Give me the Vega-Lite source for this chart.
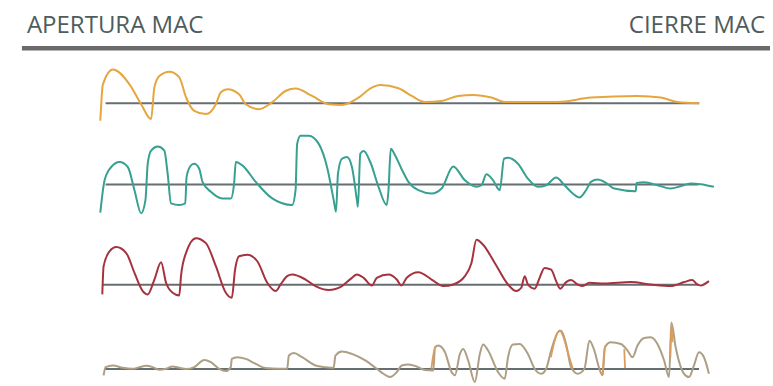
{
  "$schema": "https://vega.github.io/schema/vega-lite/v6.json",
  "width": 773,
  "height": 386,
  "autosize": {"type": "fit", "contains": "padding"},
  "padding": 0,
  "background": "#ffffff",
  "config": {"view": {"stroke": null}},
  "datasets": {
    "cabecera": [
      {"texto": "APERTURA MAC", "pos": 27, "nivel": 14, "lado": "izq"},
      {"texto": "CIERRE MAC", "pos": 768, "nivel": 14, "lado": "der"}
    ],
    "separador": [
      {"inicio": 22, "fin": 773, "nivel": -1.7}
    ],
    "bases": [
      {"serie": "naranja", "inicio": 106, "fin": 702, "nivel": 0},
      {"serie": "verde", "inicio": 106, "fin": 701, "nivel": 0},
      {"serie": "rojo", "inicio": 103.3, "fin": 701.7, "nivel": 0},
      {"serie": "arena", "inicio": 105, "fin": 701.7, "nivel": 0}
    ],
    "curvas": [
      {"serie": "naranja", "t": 100.7, "v": -17.7},
      {"serie": "naranja", "t": 103.3, "v": 19},
      {"serie": "naranja", "t": 113.3, "v": 34},
      {"serie": "naranja", "t": 130, "v": 19},
      {"serie": "naranja", "t": 141.7, "v": -1},
      {"serie": "naranja", "t": 151.7, "v": -16},
      {"serie": "naranja", "t": 155, "v": 16},
      {"serie": "naranja", "t": 160, "v": 27.3},
      {"serie": "naranja", "t": 170, "v": 31.7},
      {"serie": "naranja", "t": 180, "v": 26},
      {"serie": "naranja", "t": 186.7, "v": 6},
      {"serie": "naranja", "t": 195, "v": -7.7},
      {"serie": "naranja", "t": 206.7, "v": -11},
      {"serie": "naranja", "t": 216.7, "v": -1},
      {"serie": "naranja", "t": 221.7, "v": 11},
      {"serie": "naranja", "t": 228.3, "v": 14},
      {"serie": "naranja", "t": 240, "v": 9},
      {"serie": "naranja", "t": 246.7, "v": -1},
      {"serie": "naranja", "t": 260, "v": -6},
      {"serie": "naranja", "t": 273.3, "v": 1},
      {"serie": "naranja", "t": 286.7, "v": 12.3},
      {"serie": "naranja", "t": 296.7, "v": 14.7},
      {"serie": "naranja", "t": 313.3, "v": 7.3},
      {"serie": "naranja", "t": 330, "v": -1},
      {"serie": "naranja", "t": 343.3, "v": -1.7},
      {"serie": "naranja", "t": 360, "v": 5.7},
      {"serie": "naranja", "t": 373.3, "v": 15.7},
      {"serie": "naranja", "t": 381.7, "v": 18.3},
      {"serie": "naranja", "t": 400, "v": 15},
      {"serie": "naranja", "t": 413.3, "v": 7.3},
      {"serie": "naranja", "t": 426.7, "v": 1.3},
      {"serie": "naranja", "t": 443.3, "v": 2.3},
      {"serie": "naranja", "t": 460, "v": 7.3},
      {"serie": "naranja", "t": 475, "v": 8.3},
      {"serie": "naranja", "t": 493.3, "v": 5.7},
      {"serie": "naranja", "t": 506.7, "v": 1.3},
      {"serie": "naranja", "t": 560, "v": 1.3},
      {"serie": "naranja", "t": 593.3, "v": 5.7},
      {"serie": "naranja", "t": 640, "v": 7.3},
      {"serie": "naranja", "t": 663.3, "v": 5.7},
      {"serie": "naranja", "t": 680, "v": 1.3},
      {"serie": "naranja", "t": 701.7, "v": 0},

      {"serie": "verde", "t": 100.7, "v": -28.3},
      {"serie": "verde", "t": 105, "v": 4.3},
      {"serie": "verde", "t": 111.7, "v": 17.7},
      {"serie": "verde", "t": 120, "v": 22.7},
      {"serie": "verde", "t": 128.3, "v": 17.7},
      {"serie": "verde", "t": 135, "v": -5.7},
      {"serie": "verde", "t": 141.7, "v": -29},
      {"serie": "verde", "t": 146, "v": -15.7},
      {"serie": "verde", "t": 148.3, "v": 21},
      {"serie": "verde", "t": 151.7, "v": 34.3},
      {"serie": "verde", "t": 158.3, "v": 38.3},
      {"serie": "verde", "t": 165, "v": 34.3},
      {"serie": "verde", "t": 168.3, "v": 11},
      {"serie": "verde", "t": 171.7, "v": -19},
      {"serie": "verde", "t": 180, "v": -20.7},
      {"serie": "verde", "t": 186, "v": -19},
      {"serie": "verde", "t": 187.3, "v": 7.7},
      {"serie": "verde", "t": 191.7, "v": 19.3},
      {"serie": "verde", "t": 195, "v": 21},
      {"serie": "verde", "t": 200, "v": 16},
      {"serie": "verde", "t": 203.3, "v": 2.7},
      {"serie": "verde", "t": 211.7, "v": -7.3},
      {"serie": "verde", "t": 223.3, "v": -14},
      {"serie": "verde", "t": 231.7, "v": -14},
      {"serie": "verde", "t": 235, "v": 1},
      {"serie": "verde", "t": 236.7, "v": 22.7},
      {"serie": "verde", "t": 243.3, "v": 19.3},
      {"serie": "verde", "t": 256.7, "v": 2.7},
      {"serie": "verde", "t": 273.3, "v": -14},
      {"serie": "verde", "t": 293.3, "v": -20.7},
      {"serie": "verde", "t": 296.7, "v": -5.7},
      {"serie": "verde", "t": 298.3, "v": 41},
      {"serie": "verde", "t": 301.7, "v": 49.3},
      {"serie": "verde", "t": 310, "v": 49.3},
      {"serie": "verde", "t": 320, "v": 41},
      {"serie": "verde", "t": 328.3, "v": 17.7},
      {"serie": "verde", "t": 335, "v": -15.7},
      {"serie": "verde", "t": 337.3, "v": -27.3},
      {"serie": "verde", "t": 339.3, "v": 11},
      {"serie": "verde", "t": 343.3, "v": 26},
      {"serie": "verde", "t": 348.3, "v": 27.7},
      {"serie": "verde", "t": 353.3, "v": 17.7},
      {"serie": "verde", "t": 358.3, "v": -15.7},
      {"serie": "verde", "t": 359.3, "v": -22.3},
      {"serie": "verde", "t": 361.7, "v": 31},
      {"serie": "verde", "t": 365, "v": 33.7},
      {"serie": "verde", "t": 371.7, "v": 22.7},
      {"serie": "verde", "t": 380, "v": -2.3},
      {"serie": "verde", "t": 388.3, "v": -20.7},
      {"serie": "verde", "t": 390, "v": -5.7},
      {"serie": "verde", "t": 392.3, "v": 36},
      {"serie": "verde", "t": 396.7, "v": 29.3},
      {"serie": "verde", "t": 403, "v": 16},
      {"serie": "verde", "t": 410, "v": 2.7},
      {"serie": "verde", "t": 420, "v": -5.7},
      {"serie": "verde", "t": 433.3, "v": -9},
      {"serie": "verde", "t": 443.3, "v": -4},
      {"serie": "verde", "t": 455, "v": 18.3},
      {"serie": "verde", "t": 466.7, "v": 4.3},
      {"serie": "verde", "t": 478.3, "v": -2.3},
      {"serie": "verde", "t": 483.3, "v": -0.7},
      {"serie": "verde", "t": 488.3, "v": 10.3},
      {"serie": "verde", "t": 495, "v": 4.3},
      {"serie": "verde", "t": 501.7, "v": -5.7},
      {"serie": "verde", "t": 506, "v": 26},
      {"serie": "verde", "t": 510, "v": 27},
      {"serie": "verde", "t": 520, "v": 21},
      {"serie": "verde", "t": 530, "v": 6},
      {"serie": "verde", "t": 540, "v": -2.3},
      {"serie": "verde", "t": 548.3, "v": -0.7},
      {"serie": "verde", "t": 558.3, "v": 7},
      {"serie": "verde", "t": 566.7, "v": -0.7},
      {"serie": "verde", "t": 575, "v": -9},
      {"serie": "verde", "t": 581.7, "v": -13},
      {"serie": "verde", "t": 588.3, "v": -5.7},
      {"serie": "verde", "t": 593.3, "v": 2.7},
      {"serie": "verde", "t": 600, "v": 5},
      {"serie": "verde", "t": 608.3, "v": 1.7},
      {"serie": "verde", "t": 616.7, "v": -4},
      {"serie": "verde", "t": 638.3, "v": -6.7},
      {"serie": "verde", "t": 639, "v": 1.7},
      {"serie": "verde", "t": 646.7, "v": 2.3},
      {"serie": "verde", "t": 660, "v": -0.7},
      {"serie": "verde", "t": 673.3, "v": -4},
      {"serie": "verde", "t": 683.3, "v": -1.7},
      {"serie": "verde", "t": 693.3, "v": 1},
      {"serie": "verde", "t": 703.3, "v": 0.3},
      {"serie": "verde", "t": 716.7, "v": -2.3},

      {"serie": "rojo", "t": 102.7, "v": -9.7},
      {"serie": "rojo", "t": 104, "v": 18.7},
      {"serie": "rojo", "t": 110, "v": 33.7},
      {"serie": "rojo", "t": 116.7, "v": 38},
      {"serie": "rojo", "t": 126.7, "v": 32},
      {"serie": "rojo", "t": 135, "v": 12},
      {"serie": "rojo", "t": 143.3, "v": -6.3},
      {"serie": "rojo", "t": 148.3, "v": -9.7},
      {"serie": "rojo", "t": 155, "v": 5.3},
      {"serie": "rojo", "t": 161.7, "v": 22.7},
      {"serie": "rojo", "t": 166.7, "v": 2},
      {"serie": "rojo", "t": 173.3, "v": -8},
      {"serie": "rojo", "t": 180, "v": -10.7},
      {"serie": "rojo", "t": 181.7, "v": 8.7},
      {"serie": "rojo", "t": 186.7, "v": 32},
      {"serie": "rojo", "t": 196.7, "v": 47},
      {"serie": "rojo", "t": 206.7, "v": 42},
      {"serie": "rojo", "t": 216.7, "v": 18.7},
      {"serie": "rojo", "t": 226.7, "v": -8},
      {"serie": "rojo", "t": 232.7, "v": -13},
      {"serie": "rojo", "t": 236, "v": 15.3},
      {"serie": "rojo", "t": 240, "v": 28.7},
      {"serie": "rojo", "t": 248.3, "v": 30.3},
      {"serie": "rojo", "t": 258.3, "v": 23.7},
      {"serie": "rojo", "t": 268.3, "v": 2},
      {"serie": "rojo", "t": 276.7, "v": -6.3},
      {"serie": "rojo", "t": 281.7, "v": 0.3},
      {"serie": "rojo", "t": 288.3, "v": 8.7},
      {"serie": "rojo", "t": 293.3, "v": 10.3},
      {"serie": "rojo", "t": 306.7, "v": 5.3},
      {"serie": "rojo", "t": 316.7, "v": -1.3},
      {"serie": "rojo", "t": 330, "v": -5.3},
      {"serie": "rojo", "t": 343.3, "v": -1.3},
      {"serie": "rojo", "t": 353.3, "v": 7},
      {"serie": "rojo", "t": 358.3, "v": 10.3},
      {"serie": "rojo", "t": 365, "v": 7},
      {"serie": "rojo", "t": 373.3, "v": -0.7},
      {"serie": "rojo", "t": 378.3, "v": 7},
      {"serie": "rojo", "t": 390, "v": 10.3},
      {"serie": "rojo", "t": 398.3, "v": 5.3},
      {"serie": "rojo", "t": 403, "v": -0.7},
      {"serie": "rojo", "t": 408.3, "v": 7},
      {"serie": "rojo", "t": 420, "v": 12.7},
      {"serie": "rojo", "t": 433.3, "v": 5.3},
      {"serie": "rojo", "t": 445, "v": -1.3},
      {"serie": "rojo", "t": 455, "v": 0.3},
      {"serie": "rojo", "t": 466.7, "v": 8.7},
      {"serie": "rojo", "t": 473.3, "v": 22},
      {"serie": "rojo", "t": 478.3, "v": 45.3},
      {"serie": "rojo", "t": 485, "v": 40.3},
      {"serie": "rojo", "t": 496.7, "v": 22},
      {"serie": "rojo", "t": 510, "v": 0.3},
      {"serie": "rojo", "t": 518.3, "v": -6.3},
      {"serie": "rojo", "t": 523.3, "v": -3},
      {"serie": "rojo", "t": 526.7, "v": 8.7},
      {"serie": "rojo", "t": 530, "v": 0.3},
      {"serie": "rojo", "t": 536.7, "v": -4},
      {"serie": "rojo", "t": 541.7, "v": 7},
      {"serie": "rojo", "t": 546.7, "v": 17},
      {"serie": "rojo", "t": 553.3, "v": 15.3},
      {"serie": "rojo", "t": 558.3, "v": 3.7},
      {"serie": "rojo", "t": 562.3, "v": -4},
      {"serie": "rojo", "t": 568.3, "v": 2.7},
      {"serie": "rojo", "t": 573.3, "v": 4.7},
      {"serie": "rojo", "t": 580, "v": 0.3},
      {"serie": "rojo", "t": 585, "v": -1.3},
      {"serie": "rojo", "t": 591.7, "v": 2},
      {"serie": "rojo", "t": 606.7, "v": 1.3},
      {"serie": "rojo", "t": 633.3, "v": 2.7},
      {"serie": "rojo", "t": 653.3, "v": 0.3},
      {"serie": "rojo", "t": 673.3, "v": -1.3},
      {"serie": "rojo", "t": 686.7, "v": 2.7},
      {"serie": "rojo", "t": 695, "v": 4.7},
      {"serie": "rojo", "t": 700, "v": 0.3},
      {"serie": "rojo", "t": 703.3, "v": -0.7},
      {"serie": "rojo", "t": 711.7, "v": 3.7},

      {"serie": "arena", "t": 104, "v": -6.3},
      {"serie": "arena", "t": 106, "v": 2},
      {"serie": "arena", "t": 113.3, "v": 3.7},
      {"serie": "arena", "t": 123.3, "v": 1.3},
      {"serie": "arena", "t": 133.3, "v": 0.3},
      {"serie": "arena", "t": 140, "v": 2},
      {"serie": "arena", "t": 146.7, "v": 3.3},
      {"serie": "arena", "t": 153.3, "v": 2},
      {"serie": "arena", "t": 160, "v": -0.7},
      {"serie": "arena", "t": 166.7, "v": 0.3},
      {"serie": "arena", "t": 173.3, "v": 2.7},
      {"serie": "arena", "t": 180, "v": 1.3},
      {"serie": "arena", "t": 186.7, "v": 0},
      {"serie": "arena", "t": 195, "v": 2},
      {"serie": "arena", "t": 205, "v": 9.3},
      {"serie": "arena", "t": 211.7, "v": 7},
      {"serie": "arena", "t": 220, "v": 0.3},
      {"serie": "arena", "t": 226.7, "v": -2},
      {"serie": "arena", "t": 231.7, "v": 2},
      {"serie": "arena", "t": 232.7, "v": 10.3},
      {"serie": "arena", "t": 238.3, "v": 12},
      {"serie": "arena", "t": 246.7, "v": 10.3},
      {"serie": "arena", "t": 256.7, "v": 5.3},
      {"serie": "arena", "t": 266.7, "v": 1},
      {"serie": "arena", "t": 280, "v": 0.3},
      {"serie": "arena", "t": 288.3, "v": 0.3},
      {"serie": "arena", "t": 290, "v": 13.7},
      {"serie": "arena", "t": 295, "v": 16.3},
      {"serie": "arena", "t": 303.3, "v": 12},
      {"serie": "arena", "t": 316.7, "v": 3.7},
      {"serie": "arena", "t": 326.7, "v": 2},
      {"serie": "arena", "t": 335, "v": 1.3},
      {"serie": "arena", "t": 336.7, "v": 13.7},
      {"serie": "arena", "t": 343.3, "v": 17.7},
      {"serie": "arena", "t": 353.3, "v": 15.3},
      {"serie": "arena", "t": 366.7, "v": 8.7},
      {"serie": "arena", "t": 378.3, "v": 0.3},
      {"serie": "arena", "t": 385, "v": -4.7},
      {"serie": "arena", "t": 391.7, "v": -8},
      {"serie": "arena", "t": 398.3, "v": -3},
      {"serie": "arena", "t": 403.3, "v": 3.7},
      {"serie": "arena", "t": 410, "v": 4.7},
      {"serie": "arena", "t": 418.3, "v": 2.7},
      {"serie": "arena", "t": 426.7, "v": -1},
      {"serie": "arena", "t": 435, "v": -1.3},
      {"serie": "arena", "t": 436.7, "v": 22},
      {"serie": "arena", "t": 440, "v": 23.7},
      {"serie": "arena", "t": 446.7, "v": 17},
      {"serie": "arena", "t": 453.3, "v": -3},
      {"serie": "arena", "t": 456.7, "v": -6.3},
      {"serie": "arena", "t": 461.7, "v": 15.3},
      {"serie": "arena", "t": 465, "v": 20.3},
      {"serie": "arena", "t": 470, "v": 8.7},
      {"serie": "arena", "t": 476.7, "v": -13},
      {"serie": "arena", "t": 481.7, "v": 15.3},
      {"serie": "arena", "t": 485, "v": 24.7},
      {"serie": "arena", "t": 490, "v": 18.7},
      {"serie": "arena", "t": 500, "v": -3},
      {"serie": "arena", "t": 506.7, "v": -9.7},
      {"serie": "arena", "t": 510, "v": 12},
      {"serie": "arena", "t": 515, "v": 24.7},
      {"serie": "arena", "t": 521.7, "v": 25.3},
      {"serie": "arena", "t": 530, "v": 15.3},
      {"serie": "arena", "t": 536.7, "v": 0.3},
      {"serie": "arena", "t": 543.3, "v": -4.7},
      {"serie": "arena", "t": 548.3, "v": 0.3},
      {"serie": "arena", "t": 553.3, "v": 18.7},
      {"serie": "arena", "t": 560, "v": 37},
      {"serie": "arena", "t": 563.3, "v": 38.7},
      {"serie": "arena", "t": 568.3, "v": 25.3},
      {"serie": "arena", "t": 573.3, "v": 2},
      {"serie": "arena", "t": 580, "v": -4.7},
      {"serie": "arena", "t": 586.7, "v": 0.3},
      {"serie": "arena", "t": 591.7, "v": 28.7},
      {"serie": "arena", "t": 596.7, "v": 18.7},
      {"serie": "arena", "t": 601.7, "v": 0.3},
      {"serie": "arena", "t": 605, "v": -6.3},
      {"serie": "arena", "t": 607.3, "v": 22},
      {"serie": "arena", "t": 613.3, "v": 27},
      {"serie": "arena", "t": 623.3, "v": 25.3},
      {"serie": "arena", "t": 630, "v": 18.7},
      {"serie": "arena", "t": 635, "v": 12},
      {"serie": "arena", "t": 640, "v": 23.7},
      {"serie": "arena", "t": 646.7, "v": 31.3},
      {"serie": "arena", "t": 653.3, "v": 32},
      {"serie": "arena", "t": 660, "v": 25.3},
      {"serie": "arena", "t": 666.7, "v": 8.7},
      {"serie": "arena", "t": 671.7, "v": -8},
      {"serie": "arena", "t": 674, "v": 47},
      {"serie": "arena", "t": 678.3, "v": 22},
      {"serie": "arena", "t": 686.7, "v": -4.7},
      {"serie": "arena", "t": 691.7, "v": -8},
      {"serie": "arena", "t": 696.7, "v": 3.7},
      {"serie": "arena", "t": 701.7, "v": 17},
      {"serie": "arena", "t": 706.7, "v": 12},
      {"serie": "arena", "t": 711.7, "v": -4.7},

      {"serie": "arena2", "tramo": 1, "t": 433, "v": 0.5},
      {"serie": "arena2", "tramo": 1, "t": 436.2, "v": 20},
      {"serie": "arena2", "tramo": 1, "t": 438.5, "v": 23.5},
      {"serie": "arena2", "tramo": 2, "t": 553, "v": 12},
      {"serie": "arena2", "tramo": 2, "t": 557, "v": 29},
      {"serie": "arena2", "tramo": 2, "t": 561.7, "v": 39},
      {"serie": "arena2", "tramo": 2, "t": 565, "v": 34},
      {"serie": "arena2", "tramo": 2, "t": 570, "v": 17},
      {"serie": "arena2", "tramo": 2, "t": 575, "v": 0.3},
      {"serie": "arena2", "tramo": 3, "t": 605, "v": -6},
      {"serie": "arena2", "tramo": 3, "t": 606.5, "v": 17},
      {"serie": "arena2", "tramo": 3, "t": 608, "v": 24},
      {"serie": "arena2", "tramo": 4, "t": 626.7, "v": 20},
      {"serie": "arena2", "tramo": 4, "t": 627.5, "v": 1},
      {"serie": "arena2", "tramo": 5, "t": 673, "v": 12},
      {"serie": "arena2", "tramo": 5, "t": 674, "v": 47},
      {"serie": "arena2", "tramo": 5, "t": 675, "v": 27}
    ]
  },
  "layer": [
    {
      "layer": [
        {
          "data": {"name": "separador"},
          "mark": {"type": "rule", "color": "#6a6a6a", "strokeWidth": 4.5},
          "encoding": {
            "x": {"field": "inicio", "type": "quantitative", "scale": {"domain": [0, 773], "nice": false, "zero": false}, "axis": null},
            "x2": {"field": "fin"},
            "y": {"field": "nivel", "type": "quantitative", "scale": {"domain": [-339, 47], "nice": false, "zero": false}, "axis": null}
          }
        },
        {
          "data": {"name": "cabecera"},
          "transform": [{"filter": "datum.lado === 'izq'"}],
          "mark": {"type": "text", "align": "left", "baseline": "alphabetic", "font": "Open Sans", "fontSize": 24, "color": "#4e5c5c"},
          "encoding": {
            "x": {"field": "pos", "type": "quantitative"},
            "y": {"field": "nivel", "type": "quantitative"},
            "text": {"field": "texto"}
          }
        },
        {
          "data": {"name": "cabecera"},
          "transform": [{"filter": "datum.lado === 'der'"}],
          "mark": {"type": "text", "align": "right", "baseline": "alphabetic", "font": "Open Sans", "fontSize": 24, "color": "#4e5c5c"},
          "encoding": {
            "x": {"field": "pos", "type": "quantitative"},
            "y": {"field": "nivel", "type": "quantitative"},
            "text": {"field": "texto"}
          }
        }
      ]
    },
    {
      "layer": [
        {
          "data": {"name": "bases"},
          "transform": [{"filter": "datum.serie === 'naranja'"}],
          "mark": {"type": "rule", "color": "#676e72", "strokeWidth": 2},
          "encoding": {
            "x": {"field": "inicio", "type": "quantitative"},
            "x2": {"field": "fin"},
            "y": {"field": "nivel", "type": "quantitative", "scale": {"domain": [-282, 104], "nice": false, "zero": false}, "axis": null}
          }
        },
        {
          "data": {"name": "curvas"},
          "transform": [{"filter": "datum.serie === 'naranja'"}],
          "mark": {"type": "line", "color": "#e6a63e", "strokeWidth": 2, "interpolate": "monotone"},
          "encoding": {
            "x": {"field": "t", "type": "quantitative"},
            "y": {"field": "v", "type": "quantitative"}
          }
        }
      ]
    },
    {
      "layer": [
        {
          "data": {"name": "bases"},
          "transform": [{"filter": "datum.serie === 'verde'"}],
          "mark": {"type": "rule", "color": "#676e72", "strokeWidth": 2},
          "encoding": {
            "x": {"field": "inicio", "type": "quantitative"},
            "x2": {"field": "fin"},
            "y": {"field": "nivel", "type": "quantitative", "scale": {"domain": [-200, 186], "nice": false, "zero": false}, "axis": null}
          }
        },
        {
          "data": {"name": "curvas"},
          "transform": [{"filter": "datum.serie === 'verde'"}],
          "mark": {"type": "line", "color": "#37a090", "strokeWidth": 2, "interpolate": "monotone"},
          "encoding": {
            "x": {"field": "t", "type": "quantitative"},
            "y": {"field": "v", "type": "quantitative"}
          }
        }
      ]
    },
    {
      "layer": [
        {
          "data": {"name": "bases"},
          "transform": [{"filter": "datum.serie === 'rojo'"}],
          "mark": {"type": "rule", "color": "#676e72", "strokeWidth": 2},
          "encoding": {
            "x": {"field": "inicio", "type": "quantitative"},
            "x2": {"field": "fin"},
            "y": {"field": "nivel", "type": "quantitative", "scale": {"domain": [-99, 287], "nice": false, "zero": false}, "axis": null}
          }
        },
        {
          "data": {"name": "curvas"},
          "transform": [{"filter": "datum.serie === 'rojo'"}],
          "mark": {"type": "line", "color": "#a5323e", "strokeWidth": 2, "interpolate": "monotone"},
          "encoding": {
            "x": {"field": "t", "type": "quantitative"},
            "y": {"field": "v", "type": "quantitative"}
          }
        }
      ]
    },
    {
      "layer": [
        {
          "data": {"name": "bases"},
          "transform": [{"filter": "datum.serie === 'arena'"}],
          "mark": {"type": "rule", "color": "#676e72", "strokeWidth": 2},
          "encoding": {
            "x": {"field": "inicio", "type": "quantitative"},
            "x2": {"field": "fin"},
            "y": {"field": "nivel", "type": "quantitative", "scale": {"domain": [-14, 372], "nice": false, "zero": false}, "axis": null}
          }
        },
        {
          "data": {"name": "curvas"},
          "transform": [{"filter": "datum.serie === 'arena'"}],
          "mark": {"type": "line", "color": "#ad9f84", "strokeWidth": 2, "interpolate": "monotone"},
          "encoding": {
            "x": {"field": "t", "type": "quantitative"},
            "y": {"field": "v", "type": "quantitative"}
          }
        },
        {
          "data": {"name": "curvas"},
          "transform": [{"filter": "datum.serie === 'arena2'"}],
          "mark": {"type": "line", "color": "#d99d5e", "strokeWidth": 1.8, "interpolate": "monotone"},
          "encoding": {
            "x": {"field": "t", "type": "quantitative"},
            "y": {"field": "v", "type": "quantitative"},
            "detail": {"field": "tramo", "type": "nominal"}
          }
        }
      ]
    }
  ],
  "resolve": {"scale": {"y": "independent"}}
}
